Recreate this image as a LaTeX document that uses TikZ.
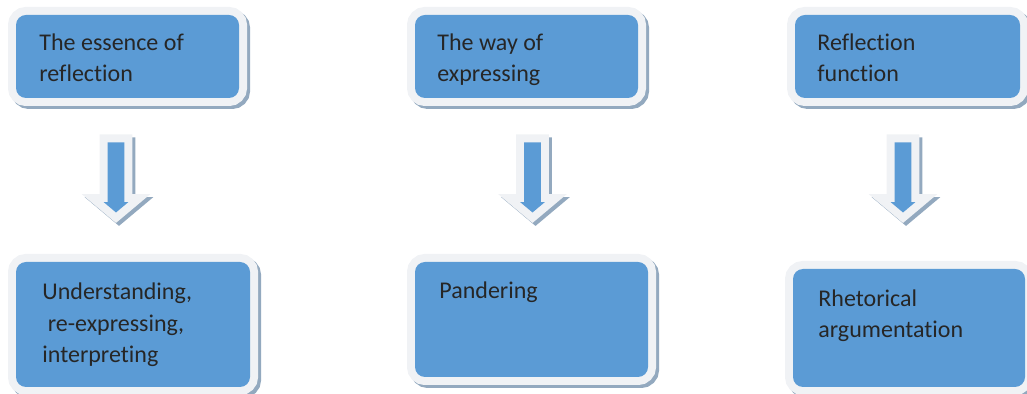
\documentclass[tikz,border=0pt]{standalone}
\usepackage{fontspec}
\setmainfont{Carlito}[Ligatures=NoCommon]
\usetikzlibrary{shapes.arrows}

\definecolor{boxblue}{HTML}{5B9BD5}
\definecolor{rimgray}{HTML}{F0F2F5}
\definecolor{shadegray}{HTML}{93A9BF}
\definecolor{inkgray}{HTML}{262626}

\tikzset{
  panel/.style={rounded corners=5pt, fill=boxblue, inner sep=0pt,
    preaction={draw=shadegray, line width=8pt, transform canvas={xshift=1.5pt, yshift=-1.5pt}},
    preaction={draw=rimgray, line width=8pt}},
  caption/.style={anchor=base west, align=left, inner sep=0pt, text=inkgray,
    font=\fontsize{12}{15.75}\selectfont},
  downarrow/.style={single arrow, shape border rotate=270, fill=boxblue, inner sep=4pt,
    minimum height=35pt, minimum width=12pt, single arrow head extend=2pt,
    single arrow tip angle=100, anchor=tip,
    preaction={draw=shadegray, fill=shadegray, line width=8pt, line join=miter,
      transform canvas={xshift=1.5pt, yshift=-1.5pt}},
    preaction={draw=rimgray, line width=8pt, line join=miter}}
}

\begin{document}
\begin{tikzpicture}[x=0.5pt, y=-0.5pt]
  \useasboundingbox (0,0) rectangle (1027,394);
  % top row
  \node[panel, minimum width=111.5pt, minimum height=41.5pt] (ess) at (127.5,56.5) {};
  \node[panel, minimum width=111.5pt, minimum height=41.5pt] (way) at (526.5,56.5) {};
  \node[panel, minimum width=112.5pt, minimum height=41.5pt] (func) at (907.5,56.5) {};
  \node[caption] (essT) at (39,82) {The essence of\\reflection};
  \node[caption] (wayT) at (437,82) {The way of\\expressing};
  \node[caption] (funcT) at (817,82) {Reflection\\function};
  % arrows
  \node[downarrow] (arrA) at (116,213) {};
  \node[downarrow] (arrB) at (532.5,213) {};
  \node[downarrow] (arrC) at (903,213) {};
  % bottom row
  \node[panel, minimum width=117pt, minimum height=62.5pt] (und) at (133,324.5) {};
  \node[panel, minimum width=116.5pt, minimum height=57.5pt] (pand) at (531.5,319.5) {};
  \node[panel, minimum width=116pt, minimum height=59pt] (rhet) at (909,328) {};
  \node[caption] (undT) at (42,363) {Understanding,\\\ re-expressing,\\interpreting};
  \node[caption] (pandT) at (439,299) {Pandering};
  \node[caption] (rhetT) at (818,338) {Rhetorical\\argumentation};
\end{tikzpicture}
\end{document}
